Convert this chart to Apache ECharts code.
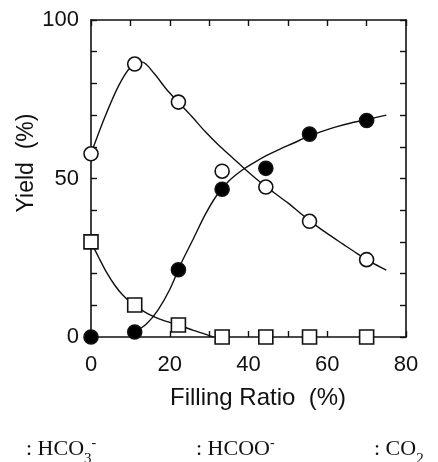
<!DOCTYPE html>
<html>
<head>
<meta charset="utf-8">
<script src="https://cdn.jsdelivr.net/npm/echarts@6/dist/echarts.min.js"></script>
<style>
  html, body { margin: 0; padding: 0; background: #fff; }
  #chart { width: 438px; height: 462px; }
</style>
</head>
<body>
<div id="chart"></div>
<script>
// measured points (filling ratio, %)
const fillRatio = [0, 11.1, 22.2, 33.3, 44.4, 55.5, 70];
const hco3Yield = [0, 1.6, 21.2, 46.6, 53.2, 64, 68.3];     // filled circles
const hcooYield = [57.8, 86.1, 74.1, 52.3, 47.3, 36.5, 24.4]; // open circles
const co2Yield = [30, 10.1, 3.8, 0, 0, 0, 0];                 // squares

// hand-drawn fit curves
const hcooFit = [[0, 57.8], [3.5, 69.3], [7, 79.2], [10, 85], [13, 86.7], [16, 83.2], [19, 78.4], [22, 74.3],
  [25.5, 69.7], [29, 64.8], [32.5, 60.4], [36, 56.5], [39.5, 52.5], [43, 48.8], [46.5, 45.5], [50, 42.3],
  [53.5, 38.7], [57, 35.3], [60.5, 32.2], [64, 29.3], [67.5, 26.4], [71, 23.7], [75, 21.1]];
const hco3Fit = [[11.1, 1.6], [14, 4], [17, 8.5], [20, 15], [23, 23.5], [26, 31], [29, 38.6], [32, 44.8],
  [35, 49.2], [38, 52.3], [41, 54.7], [44.5, 57.2], [48, 59.3], [51.5, 61.2], [55, 63.2], [58.5, 64.8],
  [62, 66.2], [66, 67.5], [70, 68.6], [75, 70]];
const co2Fit = [[0, 30], [2, 25], [4, 20.3], [6, 16.4], [8, 13.3], [10, 11], [12, 9.2], [14.5, 7.3],
  [17, 5.9], [20, 4.6], [23, 3.4], [26, 2.1], [29, 0.9], [31.1, 0]];

const xTickLabels = [0, 20, 40, 60, 80];
const yTickLabels = [0, 50, 100];

const ink = '#111';
const sans = 'Liberation Sans, Arial, sans-serif';
const serif = 'Liberation Serif, Times New Roman, serif';

const pairs = ys => fillRatio.map((x, i) => [x, ys[i]]);

function fitLine(data) {
  return {
    type: 'line', data: data, smooth: 0.3, showSymbol: false, silent: true,
    lineStyle: { color: ink, width: 1.4 }, z: 2
  };
}

function markers(data, symbol, size, fill) {
  return {
    type: 'scatter', data: data, symbol: symbol, symbolSize: size, z: 5,
    itemStyle: { color: fill, borderColor: ink, borderWidth: 1.6, opacity: 1 }
  };
}

const axisBase = {
  type: 'value',
  splitLine: { show: false },
  axisLine: { show: true, onZero: false, lineStyle: { color: ink, width: 1.6 } },
  axisTick: { show: true, inside: true, length: 6, lineStyle: { color: ink, width: 1.4 } }
};

const chart = echarts.init(document.getElementById('chart'));
chart.setOption({
  animation: false,
  backgroundColor: '#fff',
  grid: { left: 91, right: 32, top: 20, bottom: 125 },
  xAxis: [
    Object.assign({}, axisBase, {
      position: 'bottom', min: 0, max: 80, interval: 10,
      axisLabel: {
        margin: 17, color: ink, fontFamily: sans, fontSize: 22,
        formatter: v => xTickLabels.includes(v) ? String(v) : ''
      }
    }),
    Object.assign({}, axisBase, {
      position: 'top', min: 0, max: 80, interval: 10, axisLabel: { show: false }
    })
  ],
  yAxis: [
    Object.assign({}, axisBase, {
      position: 'left', min: 0, max: 100, interval: 10,
      axisLabel: {
        margin: 12, color: ink, fontFamily: sans, fontSize: 22,
        formatter: v => yTickLabels.includes(v) ? String(v) : ''
      }
    }),
    Object.assign({}, axisBase, {
      position: 'right', min: 0, max: 100, interval: 10, axisLabel: { show: false }
    })
  ],
  series: [
    fitLine(hcooFit),
    fitLine(hco3Fit),
    fitLine(co2Fit),
    markers(pairs(co2Yield), 'rect', 14, '#fff'),
    markers(pairs(hco3Yield), 'circle', 14, '#000'),
    markers(pairs(hcooYield), 'circle', 14, '#fff')
  ],
  graphic: [
    {
      type: 'text', x: 27, y: 163, rotation: Math.PI / 2,
      style: { text: 'Yield  (%)', fill: ink, font: '23px ' + sans, align: 'center', verticalAlign: 'middle' }
    },
    {
      type: 'text', x: 258, y: 398,
      style: { text: 'Filling Ratio  (%)', fill: ink, font: '24px ' + sans, align: 'center', verticalAlign: 'middle' }
    },
    ...[
      { x: 26, text: ': HCO{sub|3}{sup|-}' },
      { x: 196, text: ': HCOO{sup|-}' },
      { x: 374, text: ': CO{sub|2}' }
    ].map(item => ({
      type: 'text', x: item.x, y: 436,
      style: {
        text: item.text, fill: ink, fontFamily: serif, fontSize: 22, lineHeight: 26,
        align: 'left', verticalAlign: 'top',
        rich: {
          sub: { fontFamily: serif, fontSize: 15, lineHeight: 15, verticalAlign: 'bottom', fill: ink, padding: [0, 0, -5, 0] },
          sup: { fontFamily: serif, fontSize: 14, lineHeight: 14, verticalAlign: 'top', fill: ink }
        }
      }
    }))
  ]
});
</script>
</body>
</html>
